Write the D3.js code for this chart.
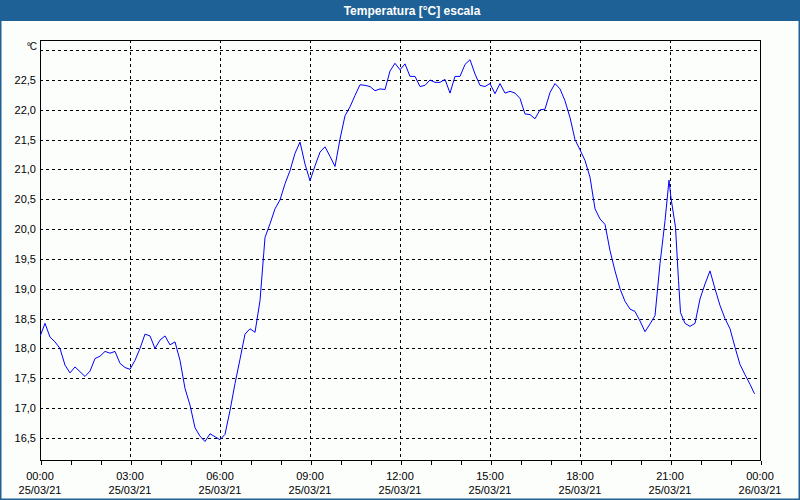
<!DOCTYPE html>
<html><head><meta charset="utf-8">
<script src="https://cdn.jsdelivr.net/npm/d3@7/dist/d3.min.js"></script>
<style>
html,body{margin:0;padding:0;background:#fff;}
svg{display:block;font-family:"Liberation Sans",Arial,sans-serif;}
</style></head>
<body>
<svg id="chart" width="800" height="500"></svg>
<script>
// minutes since 25/03/21 00:00
const minutes = [0,10,20,30,40,50,60,70,80,90,100,110,120,130,140,150,160,170,180,190,200,210,220,230,240,250,260,270,280,290,300,310,320,330,340,350,360,370,380,390,400,410,420,430,440,450,460,470,480,490,500,510,520,530,540,550,560,570,580,590,600,610,620,630,640,650,660,670,680,690,700,710,720,730,740,750,760,770,780,790,800,810,820,830,840,850,860,870,880,890,900,910,920,930,940,950,960,970,980,990,1000,1010,1020,1030,1040,1050,1060,1070,1080,1090,1100,1110,1120,1130,1140,1150,1160,1170,1180,1190,1200,1210,1220,1230,1240,1250,1258,1262,1271,1277,1281,1290,1300,1310,1320,1330,1340,1350,1360,1370,1380,1390,1400,1410,1420,1429];
const temps = [18.20,18.42,18.19,18.11,18.00,17.72,17.59,17.69,17.61,17.53,17.62,17.83,17.87,17.95,17.92,17.95,17.75,17.68,17.65,17.80,18.00,18.24,18.21,18.00,18.14,18.21,18.06,18.11,17.80,17.33,17.05,16.67,16.53,16.44,16.57,16.52,16.47,16.56,16.96,17.41,17.82,18.24,18.33,18.27,18.80,19.86,20.09,20.34,20.49,20.76,20.98,21.27,21.46,21.09,20.81,21.06,21.29,21.38,21.22,21.05,21.51,21.90,22.05,22.24,22.42,22.41,22.39,22.32,22.35,22.34,22.65,22.78,22.67,22.77,22.56,22.56,22.39,22.41,22.50,22.46,22.46,22.51,22.28,22.56,22.56,22.76,22.84,22.60,22.41,22.39,22.44,22.27,22.44,22.28,22.31,22.28,22.19,21.93,21.92,21.85,22.00,22.01,22.29,22.44,22.35,22.15,21.87,21.50,21.33,21.15,20.87,20.34,20.17,20.08,19.64,19.30,19.00,18.79,18.66,18.62,18.46,18.28,18.41,18.55,19.42,20.14,20.82,20.52,20.03,19.14,18.60,18.42,18.37,18.42,18.83,19.08,19.30,19.00,18.72,18.50,18.33,18.02,17.73,17.56,17.40,17.24];
const yTicks = [16.5,17.0,17.5,18.0,18.5,19.0,19.5,20.0,20.5,21.0,21.5,22.0,22.5];
const yGrid = [16.5,17.0,17.5,18.0,18.5,19.0,19.5,20.0,20.5,21.0,21.5,22.0,22.5,23.0];
const xTickMinutes = [0,180,360,540,720,900,1080,1260,1440];
const xTickTimes = ["00:00","03:00","06:00","09:00","12:00","15:00","18:00","21:00","00:00"];
const xTickDates = ["25/03/21","25/03/21","25/03/21","25/03/21","25/03/21","25/03/21","25/03/21","25/03/21","26/03/21"];
const hourMinutes = d3.range(0, 1441, 60);
const title = "Temperatura [°C] escala";
const unit = "°C";

const svg = d3.select("#chart");
const W = 800, H = 500;
const L = 40, R = 760, T = 40, B = 460;

svg.append("rect").attr("x",0).attr("y",0).attr("width",W).attr("height",H).attr("fill","#fcfefc");
svg.append("rect").attr("x",0).attr("y",0).attr("width",W).attr("height",21).attr("fill","#1d6196");
svg.append("rect").attr("x",0.75).attr("y",0.75).attr("width",W-1.5).attr("height",H-1.5)
  .attr("fill","none").attr("stroke","#1d6196").attr("stroke-width",1.5);
svg.append("text").attr("x",412).attr("y",15).attr("text-anchor","middle")
  .attr("fill","#ffffff").attr("font-weight","bold").attr("font-size","12px").text(title);

const x = d3.scaleLinear().domain([0,1440]).range([L,R]);
const y = d3.scaleLinear().domain([16.13,23.17]).range([B,T]);

const g = svg.append("g");
// grid
g.selectAll(".hg").data(yGrid).join("line")
  .attr("x1",L).attr("x2",R).attr("y1",d=>Math.round(y(d))+0.5).attr("y2",d=>Math.round(y(d))+0.5)
  .attr("stroke","#000").attr("stroke-width",1).attr("stroke-dasharray","3,3").attr("shape-rendering","crispEdges");
g.selectAll(".vg").data(xTickMinutes.slice(1,-1)).join("line")
  .attr("y1",T).attr("y2",B).attr("x1",d=>Math.round(x(d))+0.5).attr("x2",d=>Math.round(x(d))+0.5)
  .attr("stroke","#000").attr("stroke-width",1).attr("stroke-dasharray","3,3").attr("shape-rendering","crispEdges");

// frame
g.append("rect").attr("x",L+0.5).attr("y",T+0.5).attr("width",R-L).attr("height",B-T)
  .attr("fill","none").attr("stroke","#000").attr("stroke-width",1).attr("shape-rendering","crispEdges");

// x axis ticks (hourly)
const xAxis = d3.axisBottom(x).tickValues(hourMinutes).tickSize(4).tickFormat("");
const xa = svg.append("g").attr("transform",`translate(0.5,${B+0.5})`).call(xAxis);
xa.select(".domain").remove();
xa.selectAll("line").attr("stroke","#000").attr("shape-rendering","crispEdges");

// x labels
const xl = svg.append("g");
xl.selectAll(".xt").data(xTickMinutes).join("text")
  .attr("x",d=>x(d)).attr("y",479.5).attr("text-anchor","middle").attr("font-size","11px").attr("fill","#000")
  .text((d,i)=>xTickTimes[i]);
xl.selectAll(".xd").data(xTickMinutes).join("text")
  .attr("x",d=>x(d)).attr("y",494).attr("text-anchor","middle").attr("font-size","11px").attr("fill","#000")
  .text((d,i)=>xTickDates[i]);

// y labels
const yAxis = d3.axisLeft(y).tickValues(yTicks).tickSize(0).tickPadding(4)
  .tickFormat(d=>d3.format(".1f")(d).replace(".",","));
const ya = svg.append("g").attr("transform",`translate(${L},0)`).call(yAxis);
ya.select(".domain").remove();
ya.selectAll("text").attr("font-size","11px").attr("font-family","Liberation Sans, Arial, sans-serif").attr("fill","#000");
svg.append("text").attr("x",36).attr("y",50).attr("text-anchor","end").attr("font-size","10px").attr("fill","#000").attr("letter-spacing","-1").text(unit);

// line
svg.append("clipPath").attr("id","clip").append("rect").attr("x",L).attr("y",T).attr("width",R-L).attr("height",B-T);
const line = d3.line().x((d,i)=>x(minutes[i])).y(d=>y(d));
svg.append("path").datum(temps).attr("clip-path","url(#clip)")
  .attr("d",line).attr("fill","none").attr("stroke","#0000ff").attr("stroke-width",1);
</script>
</body></html>
